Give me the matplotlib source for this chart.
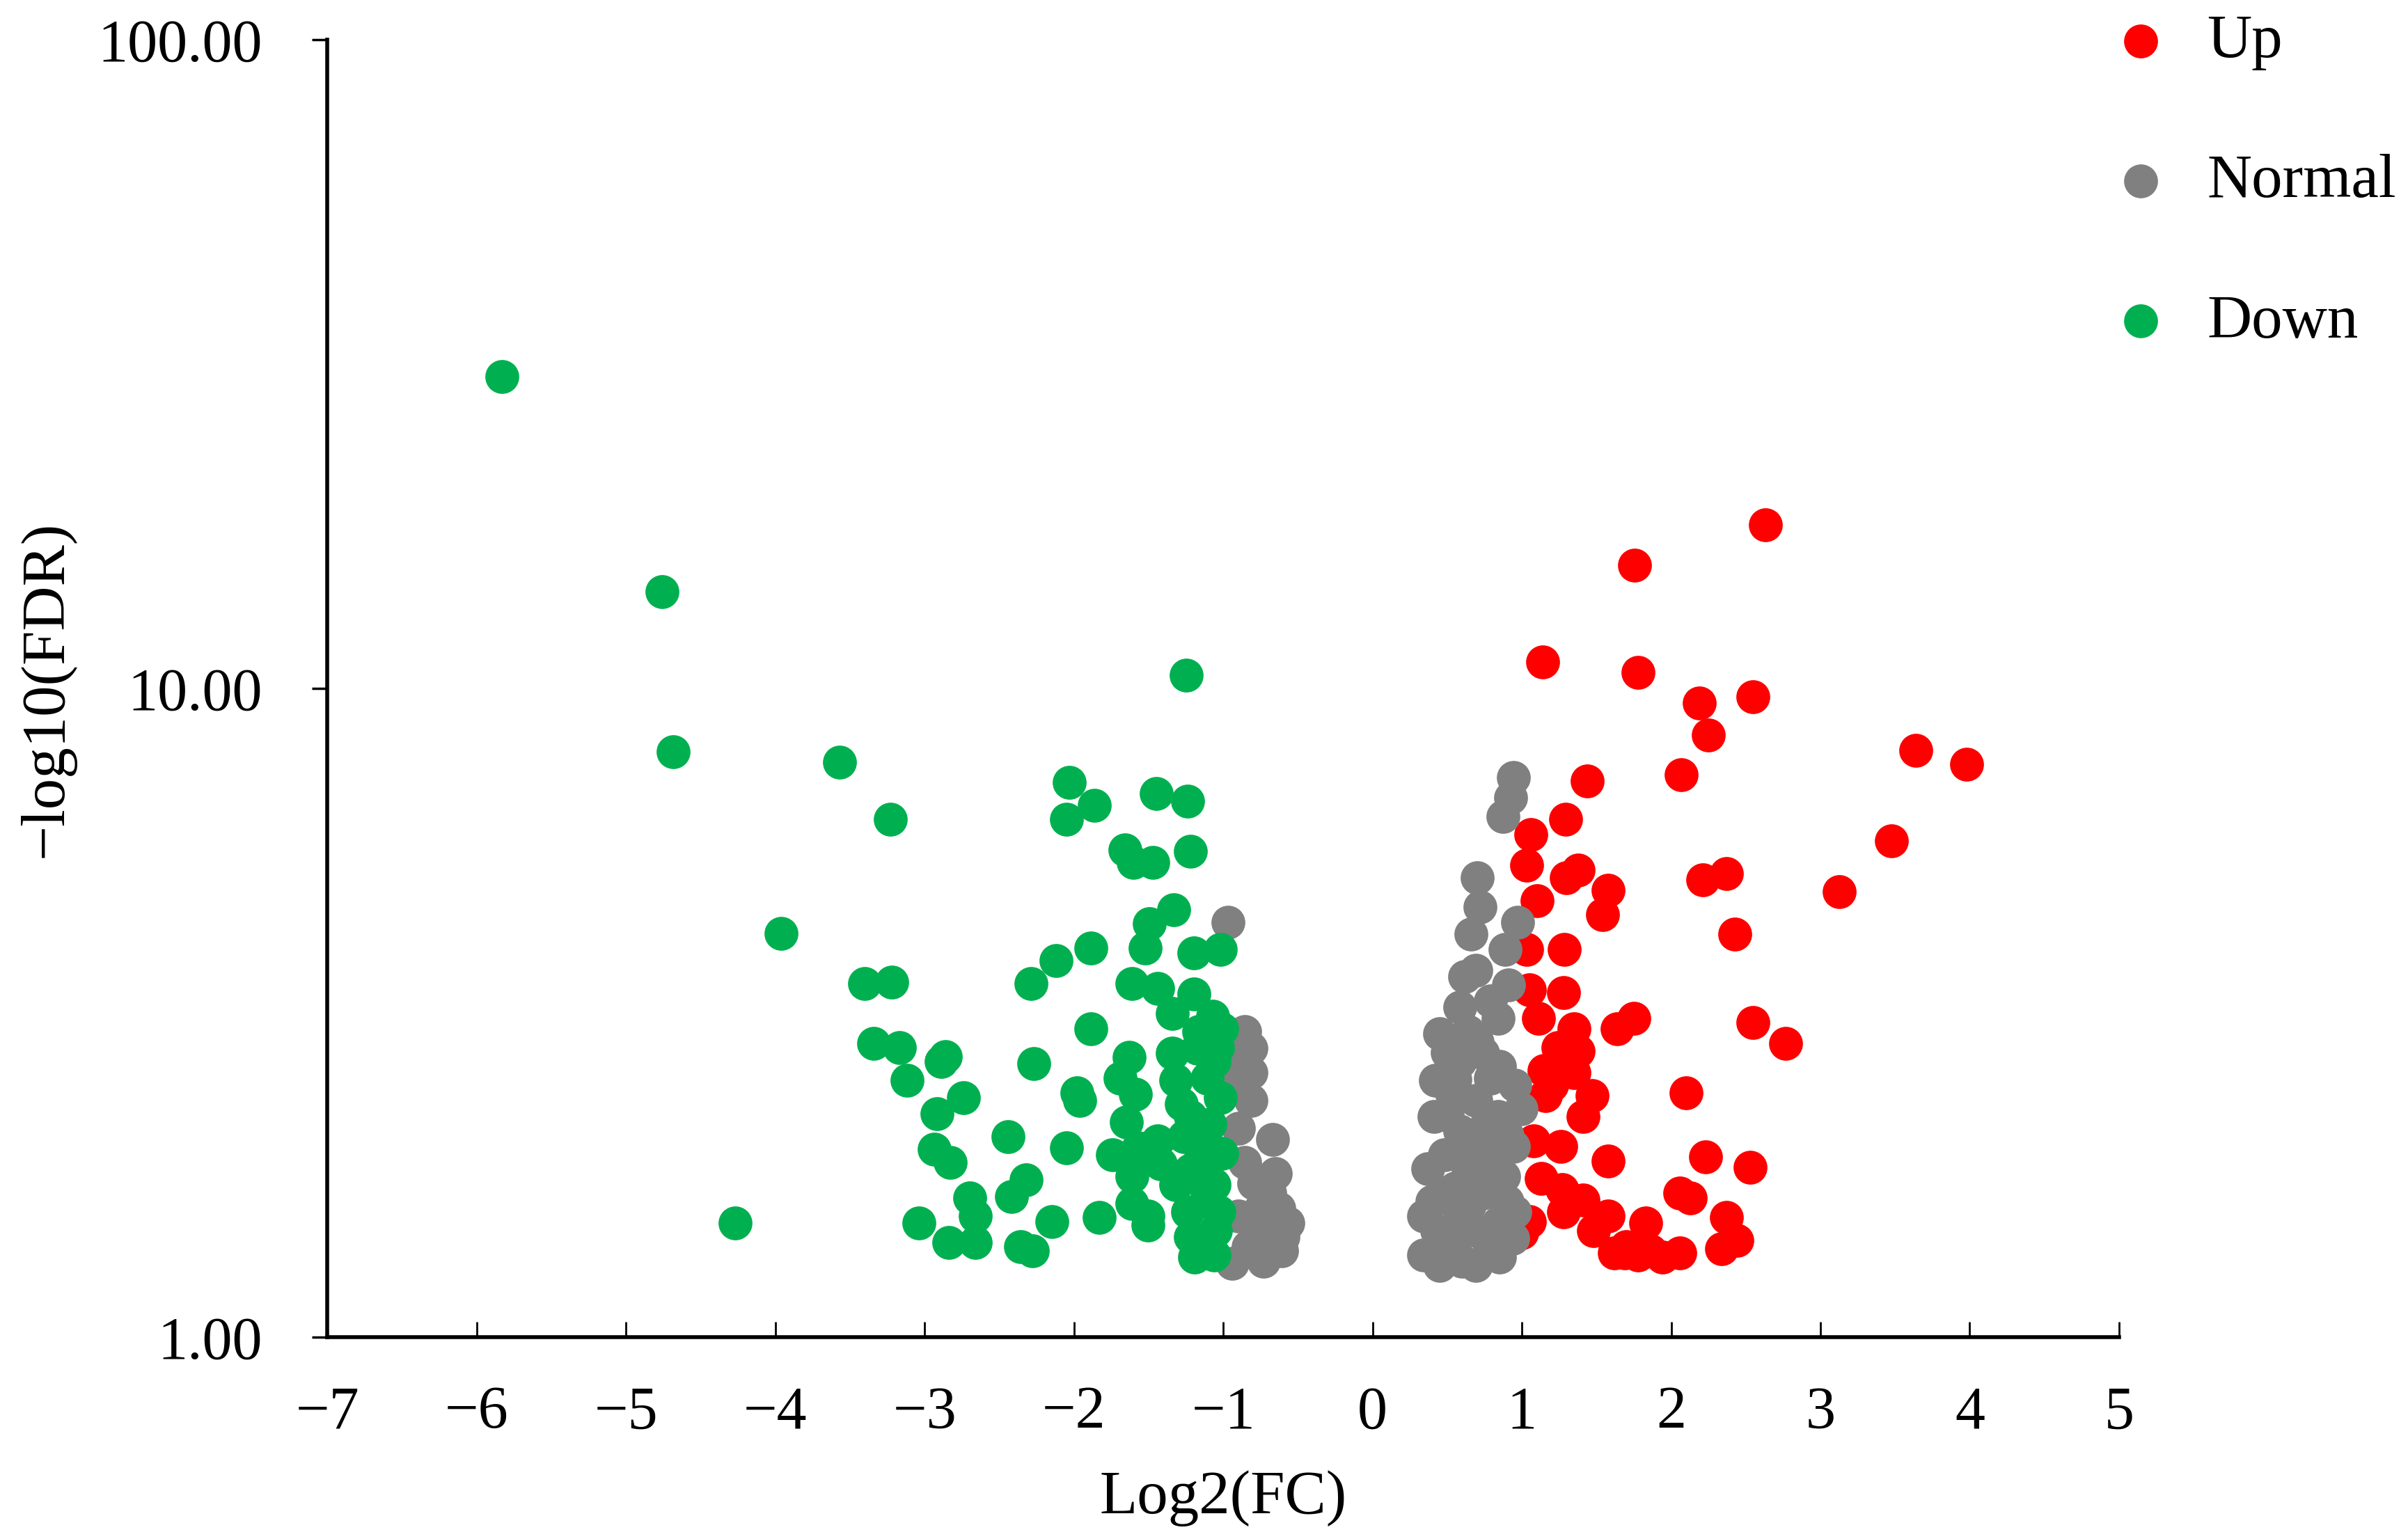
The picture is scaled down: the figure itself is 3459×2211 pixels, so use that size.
import matplotlib
matplotlib.use('Agg')
import matplotlib.pyplot as plt
from matplotlib.ticker import FixedLocator, FormatStrFormatter, NullLocator

plt.rcParams['font.family'] = ['Liberation Serif', 'DejaVu Serif']

# Up (red)
up_x = [2.63, 1.757, 1.14, 1.78, 2.19, 2.55, 2.25, 3.64, 3.98, 2.066,
        1.44, 1.295, 1.06, 3.476, 1.03, 1.377, 1.30, 1.58, 2.21, 2.37,
        3.126, 1.10, 1.54, 2.426, 1.03, 1.284, 1.05, 1.28, 1.11, 1.35,
        1.75, 1.64, 2.55, 2.765, 1.24, 1.377, 1.15, 1.35, 1.20, 1.47,
        2.10, 1.16, 1.41, 1.08, 1.26, 1.58, 2.23, 2.53, 1.13, 1.27,
        1.41, 2.06, 2.13, 1.58, 1.05, 1.28, 1.83, 2.37, 1.48, 1.69,
        1.62, 1.78, 1.94, 2.06, 1.70, 1.86, 2.34, 2.44, 1.00]
up_y = [17.9, 15.5, 11.0, 10.6, 9.5, 9.73, 8.49, 8.04, 7.65, 7.36,
        7.21, 6.29, 5.96, 5.83, 5.34, 5.25, 5.11, 4.89, 5.08, 5.19,
        4.87, 4.71, 4.48, 4.18, 3.96, 3.96, 3.43, 3.40, 3.10, 2.99,
        3.10, 2.99, 3.06, 2.84, 2.80, 2.76, 2.58, 2.56, 2.45, 2.36,
        2.38, 2.36, 2.19, 2.01, 1.97, 1.87, 1.90, 1.83, 1.76, 1.69,
        1.63, 1.67, 1.64, 1.54, 1.51, 1.56, 1.50, 1.53, 1.46, 1.35,
        1.35, 1.34, 1.33, 1.35, 1.38, 1.36, 1.37, 1.41, 1.45]

# Normal (gray)
normal_x = [0.944, 0.924, 0.873, 0.70, 0.72, 0.97, 0.66, 0.89, 0.615, 0.913,
            0.584, 0.84, 0.45, 0.74, 0.955, 0.42, 0.41, 0.37, 0.88, 0.34,
            0.955, 0.34, 0.56, 0.78, 0.584, 0.53, 0.69, 0.84, 0.584, 0.74,
            0.48, 0.945, 0.64, 0.48, 0.74, 0.584, 0.84, 0.43, 0.69, 0.45,
            0.69, 0.94, 0.79, 0.995, 0.64, 0.79, 0.69, 0.50, 0.60, 0.80,
            0.55, 0.90, 0.65, 0.40, 0.50, 0.85, 0.60, 0.75, 0.90, 0.55,
            0.70, 0.50, 0.85,
            -0.97, -0.908, -0.857, -0.815, -0.815, -0.815, -0.897, -0.67, -0.65, -0.795,
            -0.63, -0.568, -0.61, -0.73, -0.94, -0.90, -0.75, -0.857, -0.75, -0.908,
            -0.908, -0.69, -0.835, -0.60]
normal_y = [7.29, 6.79, 6.36, 5.11, 4.61, 4.36, 4.18, 3.96, 3.60, 3.49,
            3.23, 3.10, 2.94, 2.74, 2.45, 2.49, 2.19, 1.82, 1.77, 1.54,
            1.56, 1.34, 1.34, 1.36, 2.66, 2.38, 2.32, 2.19, 2.08, 1.97,
            1.91, 1.97, 1.81, 1.67, 1.67, 1.54, 1.50, 1.46, 1.46, 1.29,
            1.29, 1.42, 2.51, 2.25, 2.96, 3.30, 3.68, 2.20, 1.95, 1.85,
            1.70, 1.62, 1.60, 1.62, 1.40, 1.33, 1.31, 2.10, 2.05, 2.50,
            2.85, 2.75, 2.62,
            4.36, 2.93, 2.96, 2.79, 2.56, 2.32, 2.10, 2.02, 1.79, 1.73,
            1.58, 1.50, 1.36, 1.31, 1.30, 1.54, 1.46, 1.86, 1.58, 2.51,
            2.66, 1.67, 1.38, 1.43]

# Down (green)
down_x = [-5.83, -4.76, -4.685, -3.57, -3.23, -3.96, -4.27, -1.25, -2.03, -1.865,
          -2.05, -1.45, -1.24, -1.66, -1.60, -1.47, -1.22, -1.33, -1.495, -1.525,
          -1.196, -1.02, -1.885, -2.12, -2.29, -3.40, -3.22, -1.61, -1.44, -1.196,
          -1.34, -1.07, -1.01, -1.885, -1.34, -3.34, -3.17, -2.86, -2.89, -3.12,
          -2.27, -1.63, -1.175, -2.74, -2.915, -1.98, -1.96, -1.69, -1.59, -1.32,
          -1.28, -1.02, -1.65, -1.09, -2.44, -2.05, -2.935, -2.83, -1.74, -1.57,
          -1.44, -1.26, -1.01, -1.22, -1.42, -1.61, -2.32, -2.42, -2.70, -2.66,
          -1.61, -1.505, -1.505, -3.04, -2.84, -2.66, -2.36, -2.28, -2.15, -1.83,
          -1.24, -1.03, -1.22, -1.05, -1.19, -1.06, -1.11, -1.06, -1.06, -1.11,
          -1.165, -1.04, -1.22, -1.11, -1.32, -1.165]
down_y = [30.3, 14.1, 8.0, 7.7, 6.29, 4.20, 1.50, 10.5, 7.17, 6.61,
          6.29, 6.90, 6.71, 5.64, 5.40, 5.40, 5.61, 4.56, 4.34, 3.98,
          3.91, 3.96, 3.98, 3.81, 3.51, 3.51, 3.53, 3.51, 3.45, 3.38,
          3.16, 3.13, 2.99, 2.99, 2.74, 2.84, 2.80, 2.71, 2.66, 2.49,
          2.64, 2.70, 2.79, 2.34, 2.21, 2.38, 2.32, 2.51, 2.37, 2.49,
          2.29, 2.34, 2.15, 2.13, 2.04, 1.96, 1.95, 1.86, 1.91, 1.96,
          2.01, 2.04, 1.92, 1.81, 1.85, 1.77, 1.75, 1.65, 1.64, 1.54,
          1.61, 1.54, 1.49, 1.50, 1.40, 1.40, 1.38, 1.36, 1.51, 1.53,
          1.56, 1.56, 1.43, 1.46, 1.33, 1.34, 1.67, 1.72, 2.66, 2.51,
          2.96, 2.80, 2.19, 1.97, 1.72, 1.86]

x_ticks = list(range(-7, 6))
y_ticks = [1, 10, 100]

fig = plt.figure(figsize=(34.59, 22.11), dpi=100)
ax = fig.add_axes([0.136, 0.131, 0.744, 0.843])

msize = 1230
ax.scatter(up_x, up_y, s=msize, c='#FF0000', linewidths=0, label='Up', zorder=2)
ax.scatter(normal_x, normal_y, s=msize, c='#808080', linewidths=0, label='Normal', zorder=3)
ax.scatter(down_x, down_y, s=msize, c='#00B050', linewidths=0, label='Down', zorder=4)

ax.set_yscale('log')
ax.set_ylim(1, 100)
ax.set_xlim(-7, 5)
ax.xaxis.set_major_locator(FixedLocator(x_ticks))
ax.yaxis.set_major_locator(FixedLocator(y_ticks))
ax.yaxis.set_minor_locator(NullLocator())
ax.yaxis.set_major_formatter(FormatStrFormatter('%.2f'))

for s in ['top', 'right']:
    ax.spines[s].set_visible(False)
for s in ['left', 'bottom']:
    ax.spines[s].set_linewidth(4)

ax.tick_params(axis='x', direction='in', length=16, width=2, pad=50, labelsize=62)
ax.tick_params(axis='y', direction='out', length=16, width=2.5, pad=51, labelsize=62)

ax.set_xlabel('Log2(FC)', fontsize=64, labelpad=30)
ax.set_ylabel('\u2212log10(FDR)', fontsize=64, labelpad=24)

fig.legend(loc='upper left', bbox_to_anchor=(0.876, 0.991), frameon=False, fontsize=64,
           handlelength=1, handletextpad=0.58, labelspacing=1.35, borderpad=0,
           borderaxespad=0, scatterpoints=1)

fig.savefig('out.png', dpi=100)
